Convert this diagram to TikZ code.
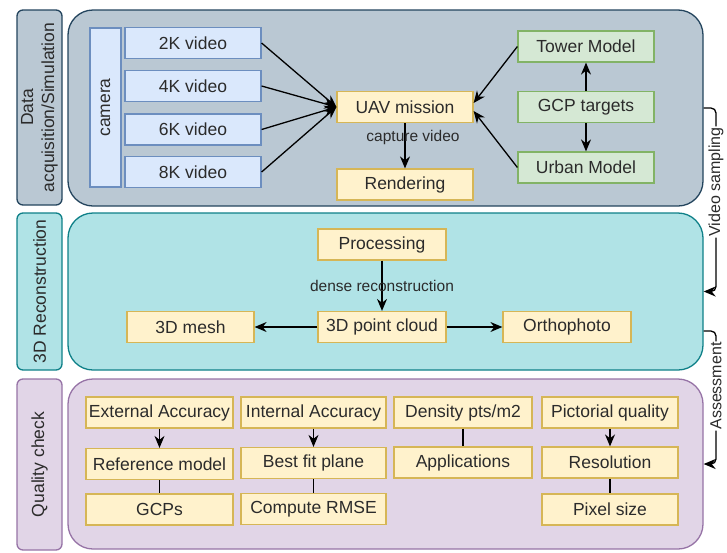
\documentclass[tikz,border=0pt]{standalone}
\usepackage{fontspec}
\setmainfont{Liberation Sans}
\usetikzlibrary{arrows.meta}

\definecolor{txtgris}{HTML}{2B2B2B}
\definecolor{jaunefond}{HTML}{FFF2CC}
\definecolor{jaunetrait}{HTML}{D6B656}
\definecolor{vertfond}{HTML}{D5E8D4}
\definecolor{verttrait}{HTML}{82B366}
\definecolor{bleufond}{HTML}{DAE8FC}
\definecolor{bleutrait}{HTML}{6C8EBF}
\definecolor{ardoisefond}{HTML}{BAC8D3}
\definecolor{ardoisetrait}{HTML}{23445D}
\definecolor{cyanfond}{HTML}{B0E3E6}
\definecolor{cyantrait}{HTML}{0E8088}
\definecolor{mauvefond}{HTML}{E1D5E7}
\definecolor{mauvetrait}{HTML}{9673A6}

\begin{document}
\begin{tikzpicture}[x=1pt, y=-1pt]
 \tikzstyle{texte}=[font=\fontsize{17.5pt}{21pt}\selectfont, text=txtgris]
 \tikzstyle{boite}=[texte, draw, line width=1.2pt, inner sep=0pt, minimum height=31]
 \tikzstyle{jaune}=[boite, fill=jaunefond, draw=jaunetrait]
 \tikzstyle{vert}=[boite, fill=vertfond, draw=verttrait]
 \tikzstyle{bleu}=[boite, fill=bleufond, draw=bleutrait]
 \tikzstyle{cadre}=[draw, line width=1.3pt, rounded corners=25pt, inner sep=0pt]
 \tikzstyle{etiquette}=[texte, draw, line width=1.3pt, rounded corners=6pt, rotate=90, align=center, minimum height=45, inner sep=0pt]
 \tikzstyle{legende}=[font=\fontsize{15.5pt}{18pt}\selectfont, text=txtgris]
 \tikzstyle{lien}=[font=\fontsize{16pt}{18pt}\selectfont, text=txtgris, fill=white, rotate=90, inner sep=1pt]
 \tikzstyle{fleche}=[-{Stealth[length=12pt, width=10pt]}, line width=1.3pt]
 \tikzstyle{trait}=[line width=1.3pt]
 %
 \useasboundingbox (0,0) rectangle (727,552);
 %
 % left headers
 \node[etiquette, fill=ardoisefond, draw=ardoisetrait, minimum width=195] (Hacq) at (39.5,107.5) {Data\\acquisition/Simulation};
 \node[etiquette, fill=cyanfond, draw=cyantrait, minimum width=157] (Hrec) at (39.5,291.5) {3D Reconstruction};
 \node[etiquette, fill=mauvefond, draw=mauvetrait, minimum width=171] (Hqual) at (39.5,464.5) {Quality check};
 %
 % stage panels
 \node[cadre, fill=ardoisefond, draw=ardoisetrait, minimum width=635, minimum height=196] (acq) at (385.5,108) {};
 \node[cadre, fill=cyanfond, draw=cyantrait, minimum width=635, minimum height=157] (recon) at (385.5,291.5) {};
 \node[cadre, fill=mauvefond, draw=mauvetrait, minimum width=635, minimum height=170] (qual) at (385.5,464) {};
 %
 % data acquisition
 \node[bleu, minimum width=159, rotate=90] (camera) at (105.5,107.5) {camera};
 \node[bleu, minimum width=136] (V2K) at (193,43) {2K video};
 \node[bleu, minimum width=136] (V4K) at (193,86) {4K video};
 \node[bleu, minimum width=136] (V6K) at (193,129.5) {6K video};
 \node[bleu, minimum width=136] (V8K) at (193,172) {8K video};
 \node[jaune, minimum width=136] (UAV) at (405,107) {UAV mission};
 \node[jaune, minimum width=136] (Rend) at (405,184.5) {Rendering};
 \node[vert, minimum width=136] (Tower) at (586,46.5) {Tower Model};
 \node[vert, minimum width=136] (GCP) at (586,107) {GCP targets};
 \node[vert, minimum width=136] (Urban) at (586,167.5) {Urban Model};
 %
 % 3D reconstruction
 \node[jaune, minimum width=128] (Proc) at (382,244.5) {Processing};
 \node[jaune, minimum width=128] (Cloud) at (382,327) {3D point cloud};
 \node[jaune, minimum width=127] (Mesh) at (190.5,327) {3D mesh};
 \node[jaune, minimum width=128] (Ortho) at (567,327) {Orthophoto};
 %
 % quality check
 \node[jaune, minimum width=147] (ExtAcc) at (159.5,412.5) {External Accuracy};
 \node[jaune, minimum width=147] (RefMod) at (159.5,464) {Reference model};
 \node[jaune, minimum width=147] (GCPs) at (159.5,509.5) {GCPs};
 \node[jaune, minimum width=145] (IntAcc) at (313.5,412.5) {Internal Accuracy};
 \node[jaune, minimum width=145] (BestFit) at (313.5,463) {Best fit plane};
 \node[jaune, minimum width=145] (RMSE) at (313.5,509) {Compute RMSE};
 \node[jaune, minimum width=138] (Dens) at (463,412.5) {Density pts/m2};
 \node[jaune, minimum width=138] (Appl) at (463,462.5) {Applications};
 \node[jaune, minimum width=136] (Pict) at (610,412.5) {Pictorial quality};
 \node[jaune, minimum width=136] (Resol) at (610,462.5) {Resolution};
 \node[jaune, minimum width=136] (Pix) at (610,509.5) {Pixel size};
 %%
 \draw[fleche] (V2K.east)--(UAV.west);
 \draw[fleche] (V4K.east)--(UAV.west);
 \draw[fleche] (V6K.east)--(UAV.west);
 \draw[fleche] (V8K.east)--(UAV.west);
 \draw[fleche] (Tower.west)--([yshift=4pt]UAV.east);
 \draw[fleche] (Urban.west)--([yshift=-4pt]UAV.east);
 \draw[fleche] (GCP)--(Tower);
 \draw[fleche] (GCP)--(Urban);
 \draw[fleche] (UAV)--(Rend);
 \node[legende] (lcapt) at (413,137) {capture video};
 %
 \draw[fleche] (Proc)--(Cloud);
 \node[legende] (ldense) at (382,286) {dense reconstruction};
 \draw[fleche] (Cloud)--(Mesh);
 \draw[fleche] (Cloud)--(Ortho);
 %
 \draw[fleche] (ExtAcc)--(RefMod);
 \draw[trait] (RefMod)--(GCPs);
 \draw[fleche] (IntAcc)--(BestFit);
 \draw[trait] (BestFit)--(RMSE);
 \draw[trait] (Dens)--(Appl);
 \draw[fleche] (Pict)--(Resol);
 \draw[trait] (Resol)--(Pix);
 %
 % links between stages
 \coordinate (rail1) at (716,182);
 \coordinate (rail2) at (716,386);
 \draw[fleche, rounded corners=5pt] (acq.east) -| (rail1) node[lien] (lvideo) {Video sampling} |- (recon.east);
 \draw[fleche, rounded corners=5pt] ([yshift=-39.5pt]recon.east) -| (rail2) node[lien] (lassess) {Assessment} |- (qual.east);
\end{tikzpicture}
\end{document}
